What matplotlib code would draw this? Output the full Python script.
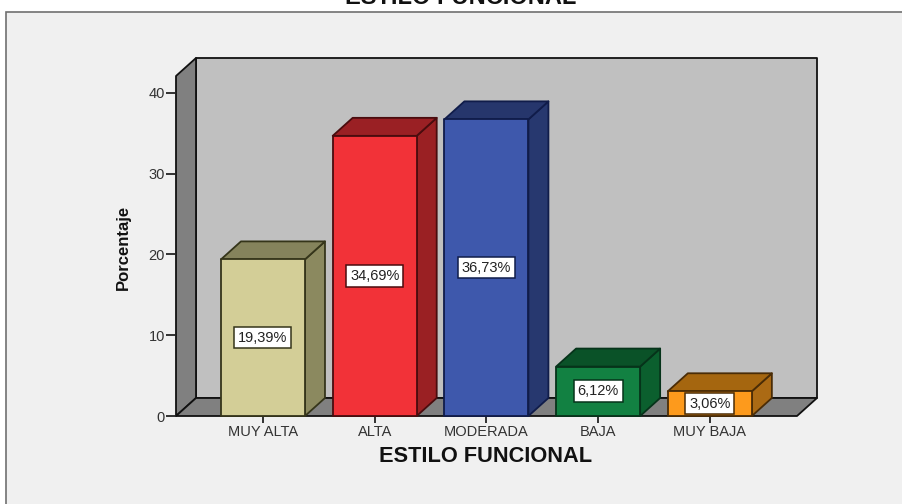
import matplotlib
matplotlib.use('Agg')
import matplotlib.pyplot as plt
from matplotlib.patches import Polygon, Rectangle

plt.rcParams['font.family'] = ['Liberation Sans', 'DejaVu Sans']

categorias = ['MUY ALTA', 'ALTA', 'MODERADA', 'BAJA', 'MUY BAJA']
porcentaje = [19.39, 34.69, 36.73, 6.12, 3.06]
etiquetas = ['19,39%', '34,69%', '36,73%', '6,12%', '3,06%']
yticks = [0, 10, 20, 30, 40]

frente = ['#d3ce97', '#f23238', '#3e58ac', '#128142', '#fd9a1c']
lado = ['#8b895f', '#9a2023', '#27386f', '#0b5f2e', '#ab6a14']
tapa = ['#85835c', '#9a2024', '#26366c', '#0a5228', '#a5660f']
borde = ['#35351a', '#4a0c0e', '#101c4a', '#06331a', '#4a2c06']

W, H = 903, 504
fig = plt.figure(figsize=(W / 100, H / 100), dpi=100, facecolor='white')

# panel gris claro detras del grafico
fig.add_artist(Rectangle((6 / W, -0.05), (W + 10) / W, (H - 12) / H + 0.05, transform=fig.transFigure,
                         facecolor='#f0f0f0', edgecolor='#707070', linewidth=1.2, zorder=-1))

ax = fig.add_axes([176 / W, (H - 416) / H, (797 - 176) / W, (416 - 76) / H])
ax.set_xlim(-0.7785, 4.78)
ax.set_ylim(0, 42.1)
ax.patch.set_visible(False)
for s in ax.spines.values():
    s.set_visible(False)

# profundidad del efecto 3D en unidades de datos
dx = 20 / 111.75
dy = 18 / 8.075
x0, x1 = ax.get_xlim()
y1 = ax.get_ylim()[1]
ancho = 0.376


def poly(pts, color, edge, lw=1.3, z=1):
    ax.add_patch(Polygon(pts, closed=True, facecolor=color, edgecolor=edge,
                         linewidth=lw, zorder=z, clip_on=False, joinstyle='round'))


# paredes y piso
poly([(x0 + dx, dy), (x1 + dx, dy), (x1 + dx, y1 + dy), (x0 + dx, y1 + dy)], '#c0c0c0', '#111111')
poly([(x0, 0), (x0 + dx, dy), (x0 + dx, y1 + dy), (x0, y1)], '#808080', '#111111')
poly([(x0, 0), (x1, 0), (x1 + dx, dy), (x0 + dx, dy)], '#808080', '#111111')

for i, v in enumerate(porcentaje):
    a, b = i - ancho, i + ancho
    poly([(b, 0), (b + dx, dy), (b + dx, v + dy), (b, v)], lado[i], borde[i], z=2)
    poly([(a, v), (b, v), (b + dx, v + dy), (a + dx, v + dy)], tapa[i], borde[i], z=2)
    poly([(a, 0), (b, 0), (b, v), (a, v)], frente[i], borde[i], z=3)
    ax.text(i, v / 2, etiquetas[i], ha='center', va='center', fontsize=10.5, color='#222222', zorder=4,
            bbox=dict(boxstyle='square,pad=0.26', facecolor='white', edgecolor=borde[i], linewidth=1.1))

ax.set_xticks(range(len(categorias)))
ax.set_xticklabels(categorias, fontsize=10.5, color='#333333')
ax.set_yticks(yticks)
ax.tick_params(axis='y', length=7, width=1.3, color='#222222', labelsize=10.5, labelcolor='#333333', pad=1)
ax.tick_params(axis='x', length=5, width=1.3, color='#222222', pad=1.5)

ax.set_xlabel('ESTILO FUNCIONAL', fontsize=15.7, fontweight='bold', color='#111111')
ax.xaxis.set_label_coords((486 - 176) / (797 - 176), -(456 - 416) / (416 - 76))
ax.xaxis.label.set_va('center')
fig.text(123 / W, 1 - 247 / H, 'Porcentaje', rotation=90, ha='center', va='center',
         fontsize=12, fontweight='bold', color='#111111')
fig.text(461 / W, 1 + 3 / H, 'ESTILO FUNCIONAL', ha='center', va='center',
         fontsize=17, fontweight='bold', color='#111111')

fig.savefig('out.png', dpi=100)
